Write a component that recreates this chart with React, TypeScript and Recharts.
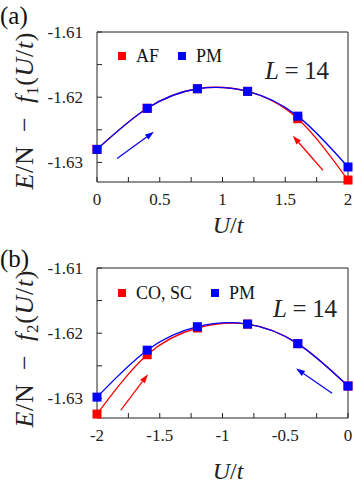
import React from 'react';
import { LineChart, Line, XAxis, YAxis, ReferenceLine, Legend } from 'recharts';

const RED = '#ff0000';
const BLUE = '#0000ff';
const INK = '#222';
const SERIF = "'Liberation Serif', 'DejaVu Serif', serif";

// panel (a): U/t >= 0
const uA = [0, 0.4, 0.8, 1.2, 1.6, 2.0];
const afA = [-1.628, -1.6217, -1.6187, -1.6191, -1.6233, -1.6327];
const pmA = [-1.628, -1.6217, -1.6187, -1.6191, -1.6229, -1.6307];

// panel (b): U/t <= 0
const uB = [-2, -1.6, -1.2, -0.8, -0.4, 0];
const coB = [-1.6324, -1.6233, -1.6192, -1.6186, -1.6216, -1.6281];
const pmB = [-1.6298, -1.6226, -1.619, -1.6186, -1.6216, -1.6281];

const xTicksA = [0, 0.25, 0.5, 0.75, 1, 1.25, 1.5, 1.75, 2];
const xTicksB = [-2, -1.75, -1.5, -1.25, -1, -0.75, -0.5, -0.25, 0];
const yTicks = [-1.63, -1.625, -1.62, -1.615, -1.61];
const yDomain = [-1.633, -1.61];

// arrows in data coordinates
const arrowsA = [
  { from: [0.16, -1.6294], to: [0.454, -1.6253], color: BLUE },
  { from: [1.8, -1.6312], to: [1.56, -1.6259], color: RED },
];
const arrowsB = [
  { from: [-1.81, -1.6318], to: [-1.594, -1.6263], color: RED },
  { from: [-0.127, -1.6292], to: [-0.414, -1.6254], color: BLUE },
];

const fmtX = (v: number) =>
  Math.abs(v * 2 - Math.round(v * 2)) < 1e-9 ? String(v === 0 ? 0 : v) : '';
const fmtY = (v: number) =>
  Math.abs(v * 100 - Math.round(v * 100)) < 1e-6 ? v.toFixed(2) : '';

const SquareDot = (props: any) => {
  const { cx, cy, stroke } = props;
  if (cx == null || cy == null) return null;
  return <rect x={cx - 4.5} y={cy - 4.5} width={9} height={9} fill={stroke} />;
};

const ArrowShape = (props: any) => {
  const { x1, y1, x2, y2, stroke } = props;
  const a = Math.atan2(y2 - y1, x2 - x1);
  const len = 9;
  const half = 3;
  const bx = x2 - len * Math.cos(a);
  const by = y2 - len * Math.sin(a);
  const px = -Math.sin(a) * half;
  const py = Math.cos(a) * half;
  return (
    <g>
      <line x1={x1} y1={y1} x2={bx} y2={by} stroke={stroke} strokeWidth={1.2} />
      <polygon
        points={`${x2},${y2} ${bx + px},${by + py} ${bx - px},${by - py}`}
        fill={stroke}
      />
    </g>
  );
};

const renderLegend = ({ payload }: any) => (
  <div
    style={{
      display: 'flex',
      alignItems: 'center',
      fontFamily: SERIF,
      fontSize: 18,
      lineHeight: '18px',
      color: '#111',
      whiteSpace: 'nowrap',
    }}
  >
    {(payload || []).map((p: any) => (
      <span key={p.value} style={{ display: 'flex', alignItems: 'center', marginRight: 19 }}>
        <span style={{ width: 8, height: 8, background: p.color, marginRight: 10 }} />
        {p.value}
      </span>
    ))}
  </div>
);

interface PanelProps {
  tag: string;
  sub: string;
  u: number[];
  first: number[];
  second: number[];
  firstName: string;
  xTicks: number[];
  arrows: { from: number[]; to: number[]; color: string }[];
  top: number;
  marginTop: number;
  marginBottom: number;
  legendTop: number;
  labelCy: number;
  tagY: number;
  lx: number;
  ly: number;
  uy: number;
}

function Panel(p: PanelProps) {
  const data = p.u.map((u, i) => ({ u, a: p.first[i], b: p.second[i] }));
  const xDomain = [p.xTicks[0], p.xTicks[p.xTicks.length - 1]];
  const axisText = { fontSize: 17, fill: INK, fontFamily: SERIF };

  return (
    <div style={{ position: 'absolute', left: 0, top: p.top }}>
      <LineChart
        width={354}
        height={242}
        data={data}
        margin={{ top: p.marginTop, right: 5, bottom: p.marginBottom, left: 0 }}
      >
        <XAxis
          dataKey="u"
          type="number"
          domain={xDomain}
          ticks={p.xTicks}
          interval={0}
          tickFormatter={fmtX}
          tickSize={-5}
          tickMargin={16}
          height={30}
          stroke={INK}
          tick={axisText}
        />
        <XAxis
          xAxisId="top"
          orientation="top"
          dataKey="u"
          type="number"
          domain={xDomain}
          ticks={p.xTicks}
          interval={0}
          tick={false}
          tickSize={-5}
          height={1}
          stroke={INK}
        />
        <YAxis
          type="number"
          domain={yDomain}
          ticks={yTicks}
          interval={0}
          tickFormatter={fmtY}
          tickSize={-5}
          tickMargin={19}
          width={97}
          stroke={INK}
          tick={axisText}
        />
        <YAxis
          yAxisId="right"
          orientation="right"
          type="number"
          domain={yDomain}
          ticks={yTicks}
          interval={0}
          tick={false}
          tickSize={-5}
          width={1}
          stroke={INK}
        />
        <Legend
          layout="horizontal"
          verticalAlign="middle"
          align="center"
          content={renderLegend}
          wrapperStyle={{ top: p.legendTop, left: 118, width: 'auto' }}
        />

        {p.arrows.map((ar, i) => (
          <ReferenceLine
            key={i}
            segment={[
              { x: ar.from[0], y: ar.from[1] },
              { x: ar.to[0], y: ar.to[1] },
            ]}
            stroke={ar.color}
            shape={ArrowShape}
          />
        ))}

        <Line
          type="natural"
          dataKey="a"
          name={p.firstName}
          stroke={RED}
          strokeWidth={1.3}
          dot={<SquareDot />}
          activeDot={false}
          isAnimationActive={false}
        />
        <Line
          type="natural"
          dataKey="b"
          name="PM"
          stroke={BLUE}
          strokeWidth={1.3}
          dot={<SquareDot />}
          activeDot={false}
          isAnimationActive={false}
        />

        <text x={0} y={p.tagY} fontFamily={SERIF} fontSize={25} fill="#111">
          {p.tag}
        </text>
        <text
          transform="rotate(-90)"
          x={-p.labelCy}
          y={33}
          textAnchor="middle"
          fontFamily={SERIF}
          fontSize={26}
          fill={INK}
          textLength={157}
          lengthAdjust="spacing"
        >
          <tspan fontStyle="italic">E</tspan>
          <tspan>{'/N\u2002\u2212\u2002'}</tspan>
          <tspan fontStyle="italic">f</tspan>
          <tspan fontSize={17} dy={5}>{p.sub}</tspan>
          <tspan dy={-5}>(</tspan>
          <tspan fontStyle="italic">U</tspan>
          <tspan>/</tspan>
          <tspan fontStyle="italic">t</tspan>
          <tspan>)</tspan>
        </text>
        <text
          x={228}
          y={p.uy}
          textAnchor="middle"
          fontFamily={SERIF}
          fontSize={24}
          fill={INK}
        >
          <tspan fontStyle="italic">U</tspan>
          <tspan>/</tspan>
          <tspan fontStyle="italic">t</tspan>
        </text>
        <text
          x={p.lx}
          y={p.ly}
          fontFamily={SERIF}
          fontSize={25}
          fill={INK}
          textLength={64}
          lengthAdjust="spacing"
        >
          <tspan fontStyle="italic">L</tspan>
          <tspan>{' = 14'}</tspan>
        </text>
      </LineChart>
    </div>
  );
}

export default function App() {
  return (
    <div
      style={{
        position: 'absolute',
        left: 0,
        top: 0,
        width: 354,
        height: 484,
        background: '#fff',
        overflow: 'hidden',
      }}
    >
      <Panel
        tag="(a)"
        sub="1"
        u={uA}
        first={afA}
        second={pmA}
        firstName="AF"
        xTicks={xTicksA}
        arrows={arrowsA}
        top={0}
        marginTop={31}
        marginBottom={30}
        legendTop={47}
        labelCy={111}
        tagY={24}
        lx={265}
        ly={79}
        uy={233}
      />
      <Panel
        tag="(b)"
        sub="2"
        u={uB}
        first={coB}
        second={pmB}
        firstName="CO, SC"
        xTicks={xTicksB}
        arrows={arrowsB}
        top={242}
        marginTop={25}
        marginBottom={36}
        legendTop={42}
        labelCy={107}
        tagY={25}
        lx={273}
        ly={75}
        uy={237}
      />
    </div>
  );
}
